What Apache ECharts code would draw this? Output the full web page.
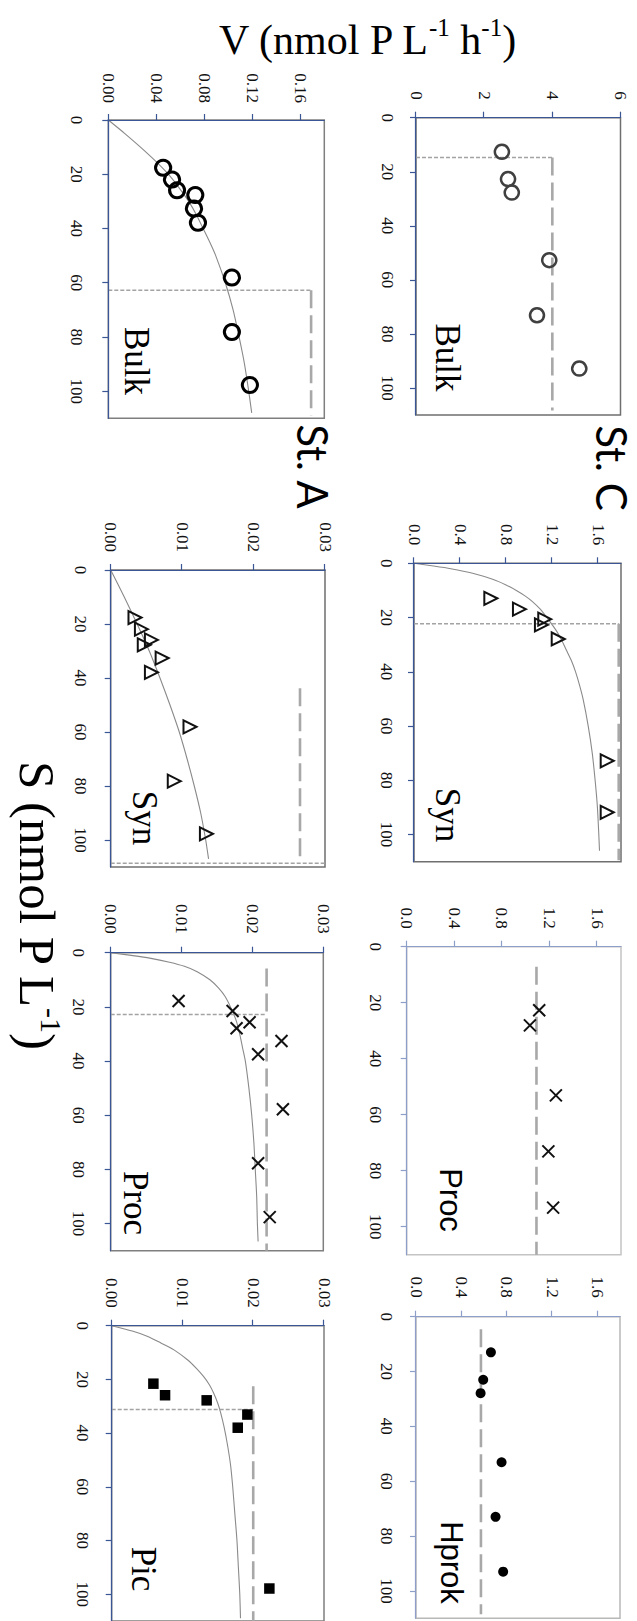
<!DOCTYPE html>
<html>
<head>
<meta charset="utf-8">
<script src="https://cdn.jsdelivr.net/npm/echarts@6/dist/echarts.min.js"></script>
<style>
html,body{margin:0;padding:0;background:#fff;overflow:hidden;width:637px;height:1621px;}
#wrap{position:absolute;left:0;top:0;width:1621px;height:637px;transform-origin:0 0;transform:translate(637px,0) rotate(90deg);}
#chart{width:1621px;height:637px;}
</style>
</head>
<body>
<div id="wrap"><div id="chart"></div></div>
<script>
// ---------------- data ----------------
const sTicks = [0, 20, 40, 60, 80, 100];
const yTicksCBulk = [0, 2, 4, 6];
const yTicksC = [0.0, 0.4, 0.8, 1.2, 1.6];
const yTicksABulk = [0.00, 0.04, 0.08, 0.12, 0.16];
const yTicksA = [0.00, 0.01, 0.02, 0.03];

// St. C
const cBulkS = [12.6, 22.7, 27.7, 52.7, 73.1, 92.8];
const cBulkV = [2.52, 2.70, 2.81, 3.91, 3.55, 4.79];
const cSynS = [12.9, 16.9, 20.6, 22.7, 27.9, 72.8, 91.8];
const cSynV = [0.668, 0.917, 1.137, 1.108, 1.254, 1.68, 1.68];
const cSynFitS = [0, 1, 2, 3.7, 6, 8, 10, 12, 14.1, 17, 21.4, 25, 28, 32, 36, 40, 45, 50, 60, 70, 80, 90, 100, 106];
const cSynFitV = [0, 0.17, 0.32, 0.51, 0.69, 0.80, 0.89, 0.965, 1.03, 1.10, 1.18, 1.24, 1.28, 1.325, 1.37, 1.405, 1.44, 1.47, 1.515, 1.55, 1.575, 1.595, 1.607, 1.613];
const cProcS = [22.7, 28.1, 53.1, 73.1, 93.2];
const cProcV = [1.113, 1.035, 1.253, 1.19, 1.23];
const cHprokS = [13.0, 23.0, 27.9, 53.1, 73.0, 93.0];
const cHprokV = [0.661, 0.593, 0.570, 0.755, 0.702, 0.769];

// St. A
const aBulkS = [17.6, 21.9, 25.9, 27.7, 32.6, 37.9, 58.1, 78.2, 97.7];
const aBulkV = [0.0457, 0.0531, 0.0573, 0.0725, 0.0714, 0.0747, 0.103, 0.103, 0.118];
const aBulkFitS = [0, 5, 10, 15, 20, 25, 30, 35, 40, 45, 50, 60, 70, 80, 90, 100, 108];
const aBulkFitV = [0, 0.0138, 0.0268, 0.039, 0.050, 0.059, 0.067, 0.0735, 0.079, 0.0845, 0.0895, 0.0975, 0.104, 0.109, 0.1135, 0.117, 0.1195];
const aSynS = [17.6, 21.9, 25.9, 27.7, 32.6, 37.9, 58.1, 78.2, 97.7];
const aSynV = [0.0034, 0.0043, 0.0057, 0.0047, 0.0072, 0.0057, 0.0111, 0.0089, 0.0134];
const aSynFitS = [0, 10, 20, 30, 40, 50, 60, 70, 80, 90, 100, 107];
const aSynFitV = [0, 0.0019, 0.0037, 0.0054, 0.0069, 0.0083, 0.0096, 0.0107, 0.0117, 0.0126, 0.0133, 0.0137];
const aProcS = [17.8, 21.5, 25.7, 27.9, 32.6, 37.5, 57.8, 77.7, 97.6];
const aProcV = [0.00958, 0.0172, 0.0196, 0.01776, 0.0241, 0.0208, 0.0243, 0.0208, 0.02244];
const aProcFitS = [0, 1, 2, 3.5, 5, 7, 10, 13, 16, 20, 25, 30, 35, 40, 50, 60, 70, 80, 90, 100, 106.6];
const aProcFitV = [0, 0.0029, 0.0055, 0.0083, 0.0104, 0.0122, 0.014, 0.0152, 0.0161, 0.0169, 0.0177, 0.0182, 0.0186, 0.019, 0.0195, 0.0199, 0.0202, 0.0204, 0.0206, 0.0207, 0.0208];
const aPicS = [21.6, 25.9, 27.8, 33.1, 38.0, 97.9];
const aPicV = [0.00589, 0.00754, 0.01342, 0.01917, 0.01781, 0.02228];
const aPicFitS = [0, 2, 4, 6.5, 9, 12.7, 16, 19, 22, 25.1, 29, 32.5, 38, 45, 52, 60, 70, 80, 90, 100, 109];
const aPicFitV = [0, 0.0029, 0.0051, 0.007, 0.0088, 0.0107, 0.012, 0.013, 0.0138, 0.0144, 0.015, 0.0154, 0.0159, 0.0164, 0.0168, 0.0171, 0.0174, 0.0177, 0.0179, 0.0181, 0.0182];

// panel order: C Bulk, C Syn, C Proc, C Hprok, A Bulk, A Syn, A Proc, A Pic
const panelNames = ['Bulk', 'Syn', 'Proc', 'Hprok', 'Bulk', 'Syn', 'Proc', 'Pic'];
const stationNames = ['St. C', 'St. A'];
const yMaxes = [6, 1.8, 1.8, 1.8, 0.18, 0.03, 0.03, 0.03];
const vmaxV = [4.0, 1.78, 1.09, 0.573, 0.169, 0.0265, 0.022, 0.020];
const dashFromS = [14.7, 22.3, 7.2, 4.6, 62.8, 43.8, 5.8, 22.6];
const dashToS = [108.3, 109.5, 110, 108.5, 109, 108, 110, 110];
const kmS = [14.7, 22.3, null, null, 62.8, 108.6, 22.8, 31.2];
const kmTopV = [4.0, 1.78, null, null, 0.169, 0.03, 0.022, 0.020];

// ---------------- layout & style ----------------
const serif = '"Liberation Serif", "Times New Roman", serif';
const sans = '"Liberation Sans", Arial, sans-serif';
const XMARK = 'path://M0,0L10,10M10,0L0,10';

const ptsS = [cBulkS, cSynS, cProcS, cHprokS, aBulkS, aSynS, aProcS, aPicS];
const ptsV = [cBulkV, cSynV, cProcV, cHprokV, aBulkV, aSynV, aProcV, aPicV];
const fitSs = [null, cSynFitS, null, null, aBulkFitS, aSynFitS, aProcFitS, aPicFitS];
const fitVs = [null, cSynFitV, null, null, aBulkFitV, aSynFitV, aProcFitV, aPicFitV];
const yTickSets = [yTicksCBulk, yTicksC, yTicksC, yTicksC, yTicksABulk, yTicksA, yTicksA, yTicksA];
const yDec = [0, 1, 1, 1, 2, 2, 2, 2];

const layout = [
  {left: 117.7, top: 16.5, width: 297.3, height: 204.5},
  {left: 563.3, top: 16, width: 298.4, height: 207},
  {left: 946.7, top: 16, width: 308, height: 214.3},
  {left: 1316.7, top: 17, width: 301.6, height: 204},
  {left: 120, top: 312.7, width: 298.3, height: 216},
  {left: 570, top: 312, width: 297, height: 214.3},
  {left: 952.7, top: 313.7, width: 298, height: 212.6},
  {left: 1325.7, top: 313, width: 297, height: 212.3}
];
const xMargin = [20, 19, 23, 21, 23, 22, 24, 21];
const yMargin = [18, 18, 18, 19, 17, 18, 19, 18];
const axisCol = ['#3b5694', '#3b5694', '#8d9ec8', '#8d9ec8', '#3b5694', '#3b5694', '#3b5694', '#3b5694'];
const boxCol = ['#6f6f6f', '#6f6f6f', '#c4c4c4', '#b8b8b8', '#7f7f7f', '#6f6f6f', '#7f7f7f', '#7f7f7f'];
const markers = [
  {symbol: 'circle', size: 14, fill: 'rgba(0,0,0,0)', stroke: '#404040', bw: 2.5},
  {symbol: 'triangle', size: 13, fill: 'rgba(0,0,0,0)', stroke: '#111', bw: 2},
  {symbol: XMARK, size: 12, fill: 'rgba(0,0,0,0)', stroke: '#111', bw: 2},
  {symbol: 'circle', size: 10, fill: '#000', stroke: '#000', bw: 0},
  {symbol: 'circle', size: 15, fill: 'rgba(0,0,0,0)', stroke: '#000', bw: 3},
  {symbol: 'triangle', size: 13, fill: 'rgba(0,0,0,0)', stroke: '#111', bw: 2},
  {symbol: XMARK, size: 12, fill: 'rgba(0,0,0,0)', stroke: '#111', bw: 2},
  {symbol: 'rect', size: 10.5, fill: '#000', stroke: '#000', bw: 0}
];
const labelPos = [
  {x: 357.5, y: 189.5, font: serif, size: 35},
  {x: 815, y: 189.5, font: serif, size: 35},
  {x: 1200, y: 187, font: sans, size: 31},
  {x: 1562.5, y: 186, font: sans, size: 31},
  {x: 361, y: 500.5, font: serif, size: 35},
  {x: 818, y: 493, font: serif, size: 35},
  {x: 1203, y: 502, font: serif, size: 35},
  {x: 1569, y: 493.5, font: serif, size: 35}
];
const stationPos = [{x: 468, y: 25}, {x: 466.5, y: 324}];

function inList(list, v) { return list.some(t => Math.abs(t - v) < 1e-9); }

const grids = [], xAxes = [], yAxes = [], series = [], graphics = [];
for (let i = 0; i < 8; i++) {
  const L = layout[i];
  grids.push({left: L.left, top: L.top, width: L.width, height: L.height, show: true,
    borderColor: boxCol[i], borderWidth: 1.5, backgroundColor: 'rgba(0,0,0,0)', containLabel: false});
  const yt = yTickSets[i], d = yDec[i];
  xAxes.push({gridIndex: i, type: 'value', min: 0, max: 110, interval: 20, z: 5,
    axisLine: {show: true, onZero: false, lineStyle: {color: axisCol[i], width: 1.2}},
    axisTick: {show: true, inside: false, length: 6, lineStyle: {color: axisCol[i], width: 1.2}, customValues: sTicks},
    axisLabel: {show: true, customValues: sTicks, margin: xMargin[i], fontFamily: serif, fontSize: 17, color: '#111',
      formatter: v => inList(sTicks, v) ? String(v) : ''},
    splitLine: {show: false}});
  yAxes.push({gridIndex: i, type: 'value', min: 0, max: yMaxes[i], interval: yt[1] - yt[0], z: 5,
    axisLine: {show: true, onZero: false, lineStyle: {color: axisCol[i], width: 1.2}},
    axisTick: {show: true, inside: false, length: 6, lineStyle: {color: axisCol[i], width: 1.2}, customValues: yt},
    axisLabel: {show: true, customValues: yt, margin: yMargin[i], fontFamily: serif, fontSize: 17, color: '#111',
      formatter: v => inList(yt, v) ? v.toFixed(d) : ''},
    splitLine: {show: false}});
  const ax = {xAxisIndex: i, yAxisIndex: i};
  if (fitSs[i]) {
    series.push({type: 'line', ...ax, data: fitSs[i].map((s, k) => [s, fitVs[i][k]]), symbol: 'none', showSymbol: false,
      smooth: 0.25, lineStyle: {color: '#8a8a8a', width: 1.1}, z: 2, silent: true});
  }
  if (kmS[i] != null) {
    series.push({type: 'line', ...ax, data: [[kmS[i], 0], [kmS[i], kmTopV[i]]], symbol: 'none', showSymbol: false,
      lineStyle: {color: '#a3a3a3', width: 1.4, type: [4, 2]}, z: 3, silent: true});
  }
  series.push({type: 'line', ...ax, data: [[dashFromS[i], vmaxV[i]], [dashToS[i], vmaxV[i]]], symbol: 'none', showSymbol: false,
    lineStyle: {color: '#a8a8a8', width: 2.6, type: [18, 7]}, z: 3, silent: true});
  const m = markers[i];
  series.push({type: 'scatter', ...ax, data: ptsS[i].map((s, k) => [s, ptsV[i][k]]), symbol: m.symbol, symbolSize: m.size,
    itemStyle: {color: m.fill, borderColor: m.stroke, borderWidth: m.bw, opacity: 1}, z: 6, silent: true});
  const P = labelPos[i];
  graphics.push({type: 'text', x: P.x, y: P.y, z: 10, style: {text: panelNames[i], fontFamily: P.font, fontSize: P.size,
    fill: '#000', align: 'center', verticalAlign: 'middle'}});
}
for (let j = 0; j < 2; j++) {
  graphics.push({type: 'text', x: stationPos[j].x, y: stationPos[j].y, z: 10, style: {text: stationNames[j],
    fontFamily: 'Lato, "Open Sans", sans-serif', fontSize: 42, fill: '#000', align: 'center', verticalAlign: 'middle'}});
}
// axis titles
graphics.push({type: 'text', x: 38, y: 270, rotation: Math.PI / 2, z: 10, style: {
  text: '{a|V (nmol P L}{b|-1}{a| h}{b|-1}{a|)}', align: 'center', verticalAlign: 'middle',
  rich: {a: {fontFamily: serif, fontSize: 42, lineHeight: 46, fill: '#000', verticalAlign: 'bottom'},
         b: {fontFamily: serif, fontSize: 25, lineHeight: 46, fill: '#000', verticalAlign: 'top'}}}});
graphics.push({type: 'text', x: 905, y: 598, z: 10, style: {
  text: '{a|S (nmol P L}{b|-1}{a|)}', align: 'center', verticalAlign: 'middle',
  rich: {a: {fontFamily: serif, fontSize: 51, lineHeight: 55, fill: '#000', verticalAlign: 'bottom'},
         b: {fontFamily: serif, fontSize: 30, lineHeight: 55, fill: '#000', verticalAlign: 'top'}}}});

const chart = echarts.init(document.getElementById('chart'), null, {renderer: 'svg', width: 1621, height: 637});
chart.setOption({
  animation: false,
  backgroundColor: '#fff',
  grid: grids, xAxis: xAxes, yAxis: yAxes, series: series, graphic: graphics
});
</script>
</body>
</html>
